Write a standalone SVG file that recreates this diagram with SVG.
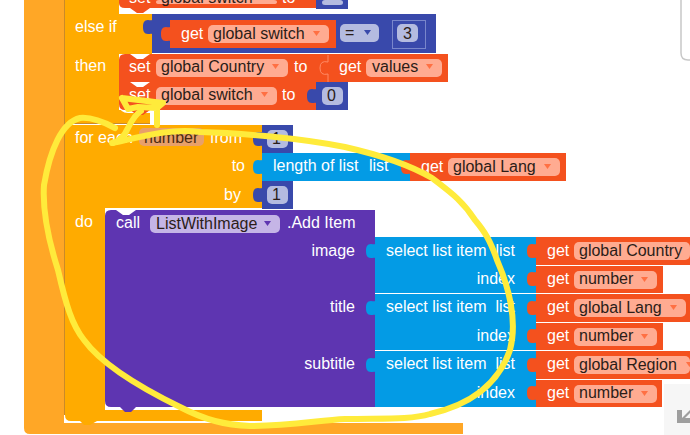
<svg xmlns="http://www.w3.org/2000/svg" width="690" height="435" viewBox="0 0 690 435">
<style>
text{font-family:"Liberation Sans",Arial,sans-serif;font-size:16px}
.t{fill:#fff}
.e{text-anchor:end}
.d{fill:#2b1d18}
.or{fill:#F4511E}
.bl{fill:#039BE5}
.nv{fill:#3949AB}
.pu{fill:#5E35B1}
.am{fill:#FFAB00}
.po{fill:#FFAB91}
.pb{fill:#B4BBE0}
.pp{fill:#C5B5E6}
.ao{fill:#FF7043}
</style>
<defs>
<path id="tab" d="M1 0C0 2-2 1-4 1C-8 1-9 4-9 8C-9 12-8 15-4 15C-2 15 0 14 1 16Z"/>
<polygon id="tri" points="0,0 7,0 3.500,5"/>
</defs>
<rect width="690" height="435" fill="#fff"/>
<g id="outer-block">
<path d="M24 0H64V423H463V434H30Q24 434 24 428Z" fill="#FFA726"/>
<path d="M64.500 0V415" fill="none" stroke="#C98A2A" stroke-width="1"/>
</g>
<g id="else-if">
<path class="am" d="M65 0H119V14H152V54H119V110H150V123H65Z"/>
<path d="M65 123.500H150" stroke="#C98A2A" stroke-width="1"/>
<text class="t" x="75" y="32">else if</text>
<text class="t" x="75" y="71">then</text>
</g>
<g id="set-top">
<path d="M119 0V6Q120 13 128 13H150V8H125Z" fill="#fff"/>
<path class="or" d="M119 0H316V8H150L143 13H137L130 8H125Q119 8 119 3Z"/>
<rect class="nv" x="316" y="0" width="32" height="9"/>
<rect class="pb" x="322" y="0" width="21" height="5" rx="3"/>
<rect class="po" x="156" y="0" width="121" height="4" rx="3"/>
<text class="t" x="129" y="3">set</text>
<text class="d" x="161" y="3">global switch</text>
<text class="t" x="282" y="3">to</text>
</g>
<g id="compare">
<path class="nv" d="M152 14H436V53H152Z"/>
<use href="#tab" class="nv" x="152" y="19"/>
<rect class="or" x="170" y="20" width="166" height="28"/>
<use href="#tab" class="or" x="170" y="26"/>
<text class="t" x="181" y="39">get</text>
<rect class="po" x="208" y="25" width="121" height="18" rx="5"/>
<text class="d" x="213" y="39">global switch</text>
<use href="#tri" class="ao" x="313" y="31"/>
<rect class="pb" x="340" y="24" width="39" height="18" rx="5"/>
<text class="d" x="345" y="38">=</text>
<use href="#tri" x="364" y="30" fill="#3949AB"/>
<rect x="392.500" y="20.500" width="33" height="28" fill="none" stroke="#7986CB"/>
<rect class="pb" x="397" y="24" width="21" height="18" rx="5"/>
<text class="d" x="403" y="39">3</text>
</g>
<g id="set-country">
<path class="or" d="M125 54H130L137 59H143L150 54H448V82H119V60Q119 54 125 54Z"/>
<text class="t" x="129" y="72">set</text>
<rect class="po" x="156" y="59" width="132" height="18" rx="5"/>
<text class="d" x="161" y="72">global Country</text>
<use href="#tri" class="ao" x="272" y="64"/>
<text class="t" x="294" y="72">to</text>
<path d="M328 55V62Q320 60 320 68T328 74V82" fill="none" stroke="#FF8A65"/>
<text class="t" x="339" y="72">get</text>
<rect class="po" x="366" y="59" width="76" height="18" rx="5"/>
<text class="d" x="372" y="72">values</text>
<use href="#tri" class="ao" x="426" y="64"/>
</g>
<g id="set-switch">
<path d="M119 100V105Q120 113 128 113H150V100Z" fill="#fff"/>
<path class="or" d="M119 82H130L137 87H143L150 82H316V110H150L143 115H137L130 110H125Q119 110 119 104Z"/>
<text class="t" x="129" y="100">set</text>
<rect class="po" x="156" y="87" width="121" height="18" rx="5"/>
<text class="d" x="161" y="100">global switch</text>
<use href="#tri" class="ao" x="261" y="92"/>
<text class="t" x="282" y="100">to</text>
<rect class="nv" x="316" y="82" width="32" height="28"/>
<use href="#tab" class="nv" x="316" y="88"/>
<rect class="pb" x="322" y="87" width="21" height="18" rx="5"/>
<text class="d" x="327" y="101">0</text>
</g>
<g id="for-each">
<path d="M65 400V416Q65 423 72 423H84V400Z" fill="#fff"/>
<path class="am" d="M65 125H262V208H105V410H262V421H97L90 425H84L80 421H71Q65 421 65 415Z"/>
<text class="t" x="75" y="143">for each</text>
<rect x="139" y="128" width="65" height="18" rx="5" fill="#E8A06A"/>
<text x="144" y="143" fill="#4a2a10">number</text>
<text class="t" x="210" y="143">from</text>
<text class="t e" x="245" y="171">to</text>
<text class="t e" x="241" y="200">by</text>
<text class="t" x="75" y="227">do</text>
</g>
<g id="num-from">
<rect class="nv" x="262" y="125" width="31" height="28"/>
<use href="#tab" class="nv" x="262" y="131"/>
<rect class="pb" x="267" y="130" width="21" height="18" rx="5"/>
<text class="d" x="272" y="144">1</text>
</g>
<g id="length-of-list">
<rect class="bl" x="262" y="153" width="148" height="28"/>
<use href="#tab" class="bl" x="262" y="159"/>
<text class="t" x="273" y="171">length of list</text>
<text class="t" x="369" y="171">list</text>
</g>
<g id="get-lang">
<rect class="or" x="410" y="153" width="156" height="28"/>
<use href="#tab" class="or" x="410" y="159"/>
<text class="t" x="421" y="172">get</text>
<rect class="po" x="448" y="158" width="112" height="18" rx="5"/>
<text class="d" x="453" y="172">global Lang</text>
<use href="#tri" class="ao" x="544" y="164"/>
</g>
<g id="num-by">
<rect class="nv" x="262" y="181" width="31" height="28"/>
<use href="#tab" class="nv" x="262" y="187"/>
<rect class="pb" x="267" y="186" width="21" height="18" rx="5"/>
<text class="d" x="272" y="200">1</text>
</g>
<g id="call">
<path d="M105 395V403Q106 410 114 410H120V395Z" fill="#fff"/>
<path class="pu" d="M111 210H116L123 215H129L136 210H375V407H136L131 412H125L120 407H111Q105 407 105 401V216Q105 210 111 210Z"/>
<text class="t" x="116" y="228">call</text>
<rect class="pp" x="150" y="215" width="130" height="18" rx="5"/>
<text class="d" x="156" y="229">ListWithImage</text>
<use href="#tri" x="264" y="221" fill="#5E35B1"/>
<text class="t" x="287" y="228">.Add Item</text>
<text class="t e" x="355" y="256">image</text>
<text class="t e" x="355" y="312">title</text>
<text class="t e" x="355" y="369">subtitle</text>
</g>
<g id="select-1">
<rect class="bl" x="375" y="237" width="161" height="56"/>
<use href="#tab" class="bl" x="375" y="243"/>
<text class="t" x="386" y="256">select list item</text>
<text class="t e" x="515" y="256">list</text>
<text class="t e" x="515" y="284">index</text>
</g>
<g id="select-2">
<rect class="bl" x="375" y="294" width="161" height="56"/>
<use href="#tab" class="bl" x="375" y="300"/>
<text class="t" x="386" y="312">select list item</text>
<text class="t e" x="515" y="312">list</text>
<text class="t e" x="515" y="341">index</text>
</g>
<g id="select-3">
<rect class="bl" x="375" y="351" width="161" height="56"/>
<use href="#tab" class="bl" x="375" y="357"/>
<text class="t" x="386" y="369">select list item</text>
<text class="t e" x="515" y="369">list</text>
<text class="t e" x="515" y="398">index</text>
</g>
<g id="get-country">
<rect class="or" x="536" y="237" width="154" height="28"/>
<use href="#tab" class="or" x="536" y="243"/>
<text class="t" x="547" y="256">get</text>
<rect class="po" x="574" y="242" width="116" height="18" rx="5"/>
<text class="d" x="579" y="256">global Country</text>
</g>
<g id="get-number-1">
<rect class="or" x="536" y="266" width="127" height="27"/>
<use href="#tab" class="or" x="536" y="271"/>
<text class="t" x="547" y="284">get</text>
<rect class="po" x="574" y="271" width="83" height="18" rx="5"/>
<text class="d" x="579" y="284">number</text>
<use href="#tri" class="ao" x="641" y="277"/>
</g>
<g id="get-global-lang">
<rect class="or" x="536" y="294" width="154" height="28"/>
<use href="#tab" class="or" x="536" y="300"/>
<text class="t" x="547" y="312">get</text>
<rect class="po" x="574" y="299" width="112" height="18" rx="5"/>
<text class="d" x="579" y="313">global Lang</text>
<use href="#tri" class="ao" x="670" y="305"/>
</g>
<g id="get-number-2">
<rect class="or" x="536" y="323" width="127" height="27"/>
<use href="#tab" class="or" x="536" y="328"/>
<text class="t" x="547" y="341">get</text>
<rect class="po" x="574" y="328" width="83" height="18" rx="5"/>
<text class="d" x="579" y="341">number</text>
<use href="#tri" class="ao" x="641" y="334"/>
</g>
<g id="get-region">
<rect class="or" x="536" y="351" width="154" height="28"/>
<use href="#tab" class="or" x="536" y="357"/>
<text class="t" x="547" y="369">get</text>
<rect class="po" x="574" y="356" width="116" height="18" rx="5"/>
<text class="d" x="579" y="370">global Region</text>
<use href="#tri" class="ao" x="686" y="362"/>
</g>
<g id="get-number-3">
<rect class="or" x="536" y="380" width="126" height="27"/>
<use href="#tab" class="or" x="536" y="385"/>
<text class="t" x="547" y="398">get</text>
<rect class="po" x="574" y="385" width="83" height="18" rx="5"/>
<text class="d" x="579" y="398">number</text>
<use href="#tri" class="ao" x="641" y="391"/>
</g>
<g id="corner-ui">
<path d="M690 60H688Q681 60 681 53V0" fill="none" stroke="#c8c8c8" stroke-width="1.500"/>
<rect x="664" y="384" width="26" height="51" fill="#f6f6f6"/>
<path d="M677 410V423H690V418H685L690 413V410L682 418V410Z" fill="#9e9e9e"/>
</g>
<g id="connectors" fill="none" stroke="#FFEB3B" stroke-width="6" stroke-linecap="round" stroke-linejoin="round">
<path d="M115 128C100 120 90 117 80 118C62 122 50 150 44 185C42 215 50 245 58 270C66 305 72 325 84 340C100 362 135 385 180 407C205 420 225 425 250 426C290 426 320 420 345 419C380 418 410 420 430 414C470 405 498 385 510 350C518 320 508 285 497 260C490 240 485 232 475 220C462 200 450 192 432 178C410 165 380 155 345 147C300 138 240 133 200 132C170 128 140 137 113 143"/>
<path d="M112 143C118 142 124 137 128 128C132 120 136 114 141 111"/>
<path d="M157 125V105M122 98L163 103L157 108L138 107L128 109L122 98"/>
</g>
</svg>
